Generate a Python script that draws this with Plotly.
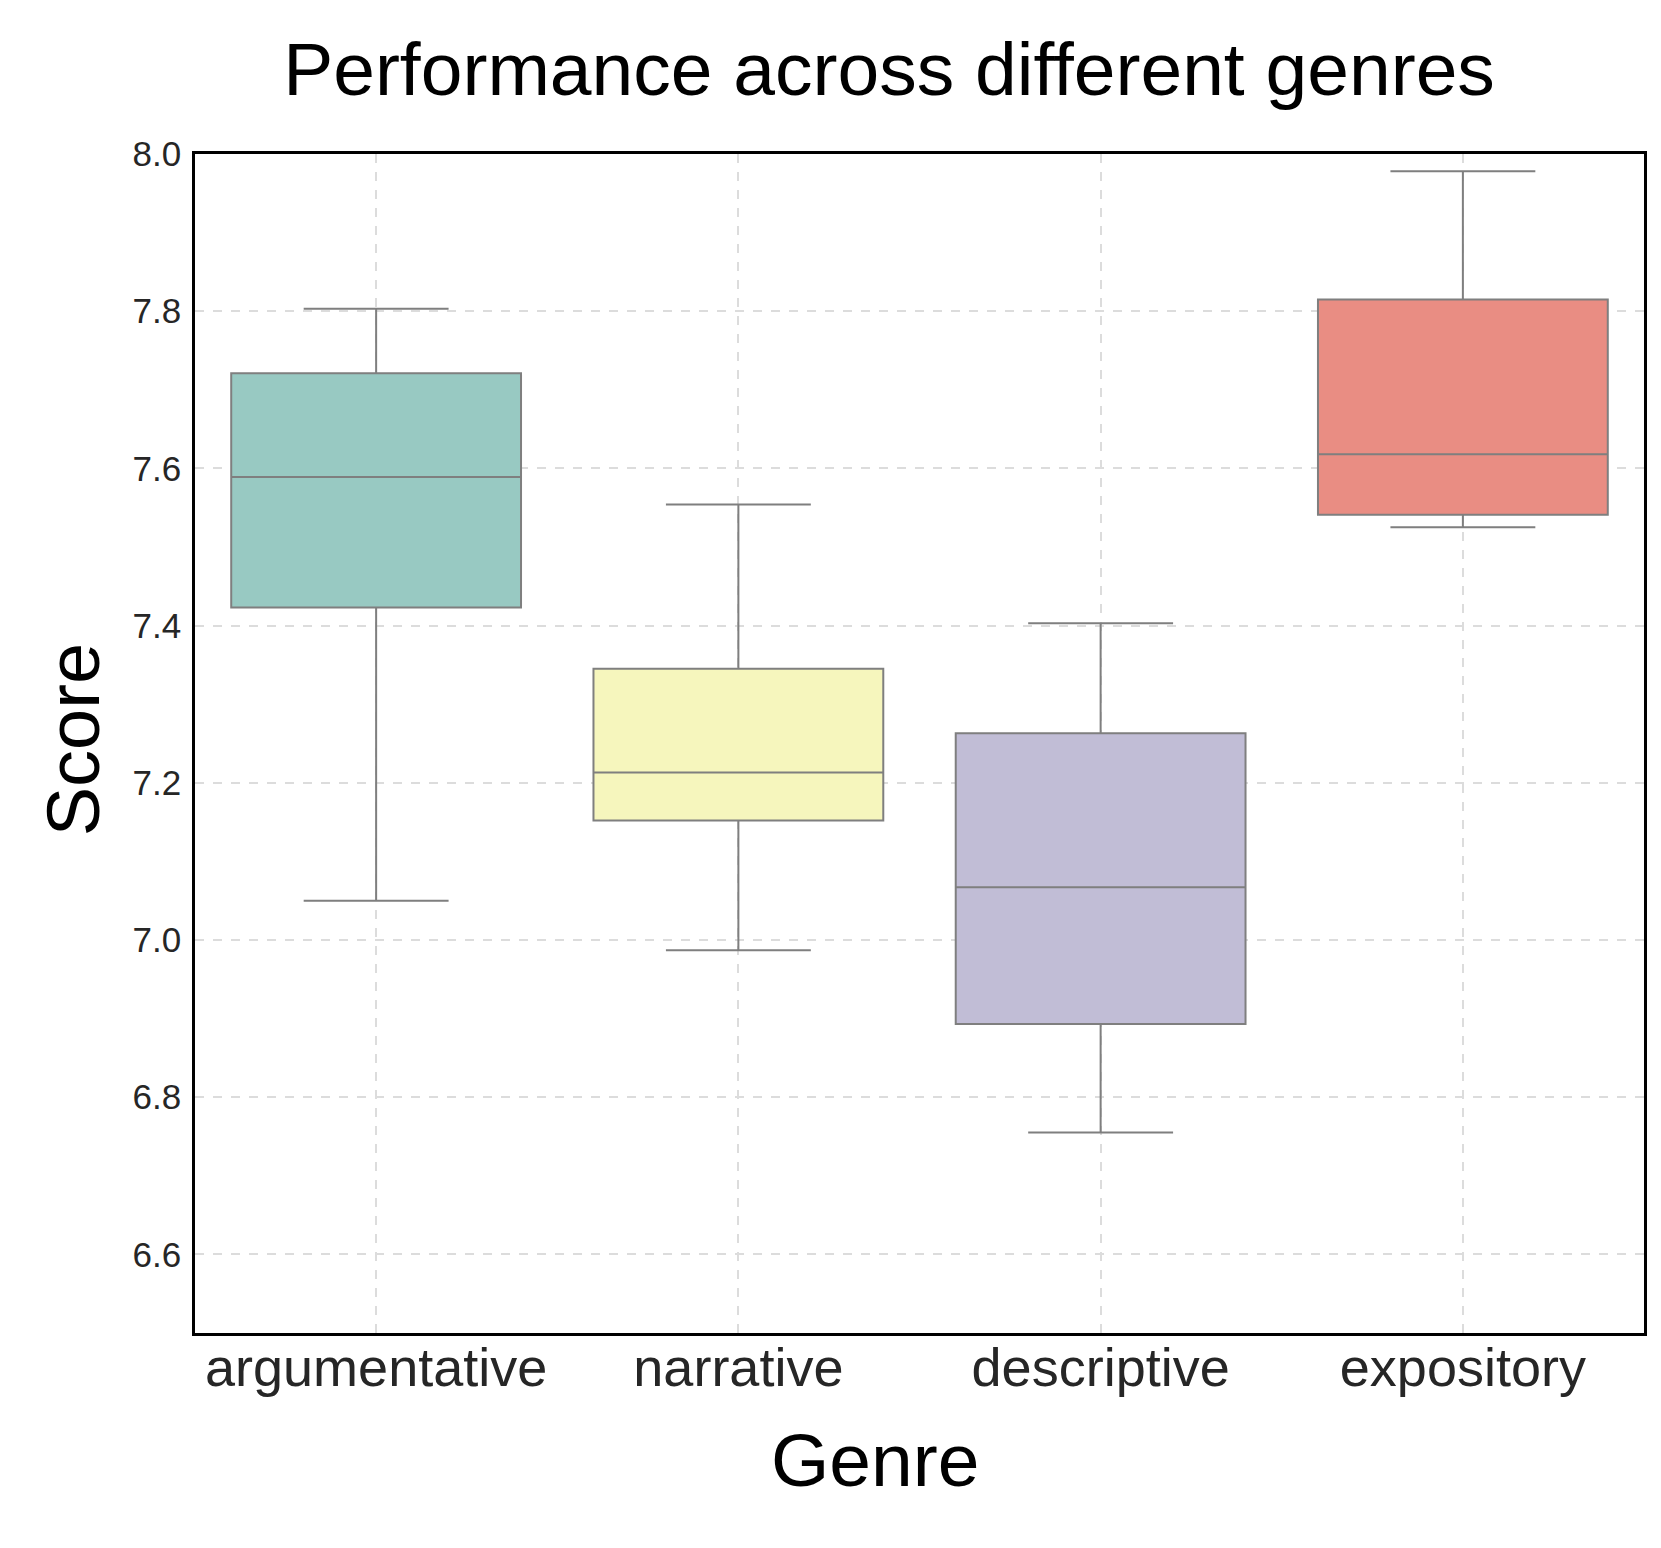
import plotly.graph_objects as go

genres = ["argumentative", "narrative", "descriptive", "expository"]
lower_whisker = [7.050, 6.987, 6.755, 7.525]
q1_values = [7.423, 7.152, 6.893, 7.541]
medians = [7.589, 7.213, 7.067, 7.618]
q3_values = [7.721, 7.345, 7.263, 7.815]
upper_whisker = [7.803, 7.554, 7.403, 7.978]
fill_colors = ["#98c9c2", "#f6f6bd", "#c1bdd6", "#e98d83"]
y_ticks = [6.6, 6.8, 7.0, 7.2, 7.4, 7.6, 7.8, 8.0]

# page body has a default margin; work in figure coordinates
OFF = 6
W, H = 1661 - 16, 1548 - 16
L, R, T, B = 193 - OFF, 1645 - OFF, 152 - OFF, 1331 - OFF

fig = go.Figure()
for i, g in enumerate(genres):
    fig.add_trace(go.Box(
        x=[g],
        q1=[q1_values[i]],
        median=[medians[i]],
        q3=[q3_values[i]],
        lowerfence=[lower_whisker[i]],
        upperfence=[upper_whisker[i]],
        fillcolor=fill_colors[i],
        line=dict(color="#7f7f7f", width=2),
        width=0.8,
        whiskerwidth=0.5,
        boxpoints=False,
        showlegend=False,
        hoverinfo="skip",
    ))

font_family = "Liberation Sans, Arial, sans-serif"

fig.update_layout(
    width=W, height=H,
    margin=dict(l=L, r=W - R, t=T, b=H - B, pad=0),
    paper_bgcolor="white",
    plot_bgcolor="white",
    boxmode="overlay",
    font=dict(family=font_family, color="#262626"),
    title=dict(
        text="Performance across different genres",
        font=dict(size=75, color="black", family=font_family),
        x=(887 - OFF) / W, xref="container", xanchor="center",
        y=1 - (67 - OFF) / H, yref="container", yanchor="middle",
    ),
    xaxis=dict(
        type="category",
        categoryorder="array",
        categoryarray=genres,
        range=[-0.5, 3.5],
        showgrid=True,
        gridcolor="#dcdcdc",
        griddash="dash",
        gridwidth=2,
        showline=True,
        linecolor="black",
        linewidth=2.5,
        mirror=True,
        ticks="",
        ticklabelstandoff=-15,
        tickfont=dict(size=54, color="#262626"),
        zeroline=False,
    ),
    yaxis=dict(
        range=[6.5, 8.0],
        tickvals=y_ticks,
        tickformat=".1f",
        showgrid=True,
        gridcolor="#dcdcdc",
        griddash="dash",
        gridwidth=2,
        showline=True,
        linecolor="black",
        linewidth=2.5,
        mirror=True,
        ticks="",
        ticklabelstandoff=4,
        tickfont=dict(size=35, color="#262626"),
        zeroline=False,
    ),
    annotations=[
        dict(text="Genre", xref="paper", yref="paper",
             x=(874 - OFF - L) / (R - L), y=-(1458 - OFF - B) / (B - T),
             xanchor="center", yanchor="middle", showarrow=False,
             font=dict(size=75, color="black", family=font_family)),
        dict(text="Score", xref="paper", yref="paper",
             x=(71 - OFF - L) / (R - L), y=(B - (738 - OFF)) / (B - T),
             xanchor="center", yanchor="middle", showarrow=False,
             textangle=-90,
             font=dict(size=74, color="black", family=font_family)),
    ],
)

fig.write_html("out.html")
